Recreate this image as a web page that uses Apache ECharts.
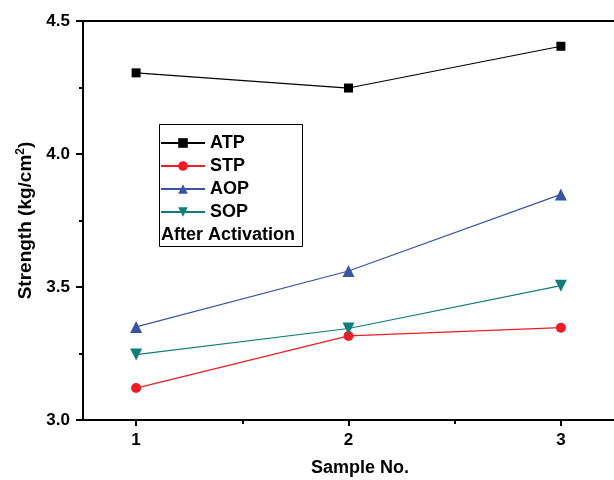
<!DOCTYPE html>
<html><head><meta charset="utf-8">
<script src="https://cdn.jsdelivr.net/npm/echarts@6/dist/echarts.min.js"></script>
<style>html,body{margin:0;padding:0;background:#fff}#c{width:614px;height:480px}</style>
</head><body><div id="c"></div>
<script>
const samples = [1, 2, 3];
const ATP = [4.305, 4.248, 4.405];
const STP = [3.12, 3.316, 3.347];
const AOP = [3.35, 3.56, 3.848];
const SOP = [3.246, 3.344, 3.505];
const xTicks = [1, 2, 3];
const xMinorTicks = [1.5, 2.5];
const seriesNames = ['ATP', 'STP', 'AOP', 'SOP'];
const legendNote = 'After Activation';

const F = '"Liberation Sans", Arial, sans-serif';
const pair = (arr) => samples.map((x, i) => [x, arr[i]]);
const chart = echarts.init(document.getElementById('c'), null, {renderer: 'canvas'});
const mk = (name, data, color, symbol, size, rot) => ({
  name, type: 'line', data: pair(data), xAxisIndex: 0, yAxisIndex: 0,
  symbol, symbolSize: size, symbolRotate: rot || 0,
  lineStyle: {color, width: 1.2}, itemStyle: {color},
  animation: false
});
chart.setOption({
  animation: false,
  grid: [
    {left: 83, top: 21, width: 531, height: 399, containLabel: false},
    {left: 83, top: 21, width: 531, height: 399, containLabel: false}
  ],
  xAxis: [
    {type: 'value', gridIndex: 0, position: 'bottom', min: 0.75, max: 3.25,
     axisLine: {show: true, lineStyle: {color: '#000', width: 2}},
     axisTick: {show: true, length: 6, lineStyle: {color: '#000', width: 2}, customValues: xTicks},
     axisLabel: {show: true, customValues: xTicks, color: '#000', fontFamily: F, fontWeight: 'bold', fontSize: 17, margin: 12},
     splitLine: {show: false}},
    {type: 'value', gridIndex: 0, position: 'top', min: 0.75, max: 3.25,
     axisLine: {show: true, lineStyle: {color: '#000', width: 2}},
     axisTick: {show: false}, axisLabel: {show: false}, splitLine: {show: false}},
    {type: 'value', gridIndex: 1, position: 'bottom', min: 0.75, max: 3.25,
     axisLine: {show: false},
     axisTick: {show: true, length: 4, lineStyle: {color: '#000', width: 2}, customValues: xMinorTicks},
     axisLabel: {show: false}, splitLine: {show: false}}
  ],
  yAxis: [
    {type: 'value', gridIndex: 0, min: 3, max: 4.5, interval: 0.5,
     axisLine: {show: true, lineStyle: {color: '#000', width: 2}},
     axisTick: {show: true, length: 7, lineStyle: {color: '#000', width: 2}},
     minorTick: {show: true, splitNumber: 2, length: 4, lineStyle: {color: '#000', width: 2}},
     axisLabel: {color: '#000', fontFamily: F, fontWeight: 'bold', fontSize: 17, margin: 13,
       formatter: v => v.toFixed(1)},
     splitLine: {show: false},
     name: '{a|Strength (kg/cm}{s|2}{a|)}', nameLocation: 'middle', nameRotate: 90, nameGap: 47,
     nameTextStyle: {rich: {
       a: {fontFamily: F, fontWeight: 'bold', fontSize: 19, color: '#000'},
       s: {fontFamily: F, fontWeight: 'bold', fontSize: 12, color: '#000', verticalAlign: 'top', padding: [0, 0, 9, 0]}
     }}},
    {type: 'value', gridIndex: 1, min: 3, max: 4.5, show: false}
  ],
  legend: {
    orient: 'vertical', left: 160, top: 134, itemWidth: 44, itemHeight: 12, itemGap: 5,
    data: seriesNames, selectedMode: false, padding: 0,
    textStyle: {fontFamily: F, fontWeight: 'bold', fontSize: 18, color: '#000'}
  },
  graphic: [
    {type: 'rect', shape: {x: 159.5, y: 124.5, width: 143, height: 122}, style: {fill: null, stroke: '#000', lineWidth: 1}, silent: true},
    {type: 'text', x: 161, y: 235, style: {text: legendNote, fontFamily: F, fontWeight: 'bold', fontSize: 18, fill: '#000', verticalAlign: 'middle'}},
    {type: 'text', x: 360, y: 468, style: {text: 'Sample No.', fontFamily: F, fontWeight: 'bold', fontSize: 18, fill: '#000', align: 'center', verticalAlign: 'middle'}}
  ],
  series: [
    mk(seriesNames[0], ATP, '#000000', 'rect', 9),
    mk(seriesNames[1], STP, '#ee1c24', 'circle', 10),
    mk(seriesNames[2], AOP, '#3a54a4', 'triangle', 12),
    mk(seriesNames[3], SOP, '#0f7e7b', 'triangle', 12, 180)
  ]
});
</script></body></html>
